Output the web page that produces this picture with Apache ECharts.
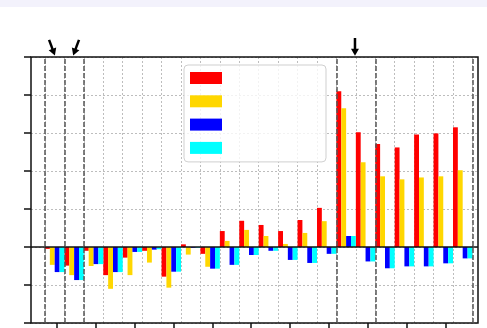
<!DOCTYPE html>
<html><head><meta charset="utf-8">
<script src="https://cdn.jsdelivr.net/npm/echarts@6/dist/echarts.min.js"></script>
<style>html,body{margin:0;padding:0;background:#fff}#c{width:487px;height:328px}</style>
</head><body><div id="c"></div>
<script>
const categories = ['G1','G2','G3','G4','G5','G6','G7','G8','G9','G10','G11','G12','G13','G14','G15','G16','G17','G18','G19','G20','G21','G22'];
const redValues    = [-0.05,-0.49,-0.10,-0.74,-0.28,-0.10,-0.78, 0.07,-0.18, 0.42, 0.69, 0.58, 0.42, 0.71, 1.03, 4.10, 3.02, 2.71, 2.62, 2.96, 2.99, 3.15];
const yellowValues = [-0.47,-0.74,-0.50,-1.10,-0.74,-0.41,-1.07,-0.20,-0.52, 0.16, 0.45, 0.29, 0.08, 0.37, 0.68, 3.65, 2.23, 1.86, 1.78, 1.83, 1.86, 2.02];
const blueValues   = [-0.66,-0.87,-0.45,-0.66,-0.13,-0.07,-0.65,-0.02,-0.57,-0.47,-0.21,-0.10,-0.34,-0.42,-0.18, 0.29,-0.38,-0.56,-0.51,-0.51,-0.43,-0.30];
const cyanValues   = [-0.66,-0.87,-0.45,-0.66,-0.13,-0.06,-0.65,-0.02,-0.57,-0.47,-0.21,-0.10,-0.34,-0.42,-0.18, 0.29,-0.38,-0.56,-0.51,-0.51,-0.43,-0.30];
const seriesNames = ['A','B','C','D'];
// major x ticks: 0..10 (one every two category slots)
const xMajorTickMin = 0, xMajorTickMax = 10;
// frame axis units: one unit per category slot, category k spans [0.72+k, 1.72+k]
const dashedMarkers = [0.72,1.72,2.72,15.72,17.72,22.72];
const arrows = [ {from:[0.93,5.45], to:[1.23,5.04]}, {from:[2.47,5.45], to:[2.17,5.04]}, {from:[16.67,5.5], to:[16.67,5.03]} ];

const chart = echarts.init(document.getElementById('c'));
const grid = '#bdbdbd';
const option = {
  animation:false,
  grid:[
    {left:45, right:14.6, top:57, bottom:5},
    {left:31, right:9, top:57, bottom:5, show:true, borderColor:'#111', borderWidth:1.5, backgroundColor:'transparent', z:3},
    {left:56.7, right:41.3, top:57, bottom:5}
  ],
  legend:{
    left:184, top:65, orient:'vertical', icon:'rect', itemWidth:32, itemHeight:12, itemGap:11.3,
    padding:[7,104,8,6], borderColor:'#cfcfcf', borderWidth:1, borderRadius:4, backgroundColor:'rgba(255,255,255,0.8)',
    formatter:function(){return '';}, textStyle:{fontSize:8}, selectedMode:false, data:seriesNames, z:10
  },
  xAxis:[
    {type:'category', gridIndex:0, data:categories, boundaryGap:true,
     axisLine:{show:false, onZero:false}, axisTick:{show:false}, axisLabel:{show:false},
     splitLine:{show:true, interval:0, lineStyle:{color:grid, type:[2,2], width:1}}},
    {type:'value', gridIndex:1, min:0, max:23,
     axisLine:{show:false, onZero:false}, axisLabel:{show:false}, splitLine:{show:false}, axisTick:{show:false}},
    {type:'value', gridIndex:2, min:xMajorTickMin, max:xMajorTickMax, interval:1, position:'bottom',
     axisLine:{show:false, onZero:false}, axisLabel:{show:false}, splitLine:{show:false},
     axisTick:{show:true, inside:false, length:7, lineStyle:{color:'#111', width:1.5}}}
  ],
  yAxis:[
    {type:'value', gridIndex:0, min:-2, max:5, interval:1, show:false, splitLine:{show:false}},
    {type:'value', gridIndex:1, min:-2, max:5, interval:1,
     axisLine:{show:false, onZero:false}, axisLabel:{show:false},
     axisTick:{show:true, inside:false, length:7, lineStyle:{color:'#111', width:1.5}},
     splitLine:{show:true, lineStyle:{color:grid, type:[2,2], width:1}}},
    {type:'value', gridIndex:2, min:-2, max:5, interval:1, show:false, splitLine:{show:false}}
  ],
  series:[
    {name:seriesNames[0], type:'bar', xAxisIndex:0, yAxisIndex:0, data:redValues, barWidth:'25%', barGap:'0%', itemStyle:{color:'#ff0000'}},
    {name:seriesNames[1], type:'bar', xAxisIndex:0, yAxisIndex:0, data:yellowValues, barWidth:'25%', barGap:'0%', itemStyle:{color:'#ffd700'}},
    {name:seriesNames[2], type:'bar', xAxisIndex:0, yAxisIndex:0, data:blueValues, barWidth:'25%', barGap:'0%', itemStyle:{color:'#0000ff'}},
    {name:seriesNames[3], type:'bar', xAxisIndex:0, yAxisIndex:0, data:cyanValues, barWidth:'25%', barGap:'0%', itemStyle:{color:'#00ffff'}},
    {type:'line', xAxisIndex:1, yAxisIndex:1, data:[], z:5, silent:true,
     markLine:{silent:true, symbol:'none', label:{show:false}, animation:false,
       data: dashedMarkers.map(v=>({xAxis:v, lineStyle:{color:'#555', type:[5,2], width:1.5}}))
         .concat([{yAxis:0, lineStyle:{color:'#111', type:'solid', width:1.5}}])}}
  ]
};
chart.setOption(option);
const g = [];
arrows.forEach(a=>{
  const p0 = chart.convertToPixel({gridIndex:1}, a.from);
  const p1 = chart.convertToPixel({gridIndex:1}, a.to);
  const dx=p1[0]-p0[0], dy=p1[1]-p0[1], L=Math.hypot(dx,dy), ux=dx/L, uy=dy/L;
  const hl=7, hw=4;
  const bx=p1[0]-ux*hl, by=p1[1]-uy*hl;
  g.push({type:'line', shape:{x1:p0[0],y1:p0[1],x2:bx+ux*1,y2:by+uy*1}, style:{stroke:'#000', lineWidth:2.5}, z:20});
  g.push({type:'polygon', shape:{points:[[p1[0],p1[1]],[bx-uy*hw,by+ux*hw],[bx+uy*hw,by-ux*hw]]}, style:{fill:'#000'}, z:20});
});
g.push({type:'rect', shape:{x:0,y:0,width:487,height:7}, style:{fill:'#f3f2fc'}, z:0});
chart.setOption({graphic:g});
</script></body></html>
